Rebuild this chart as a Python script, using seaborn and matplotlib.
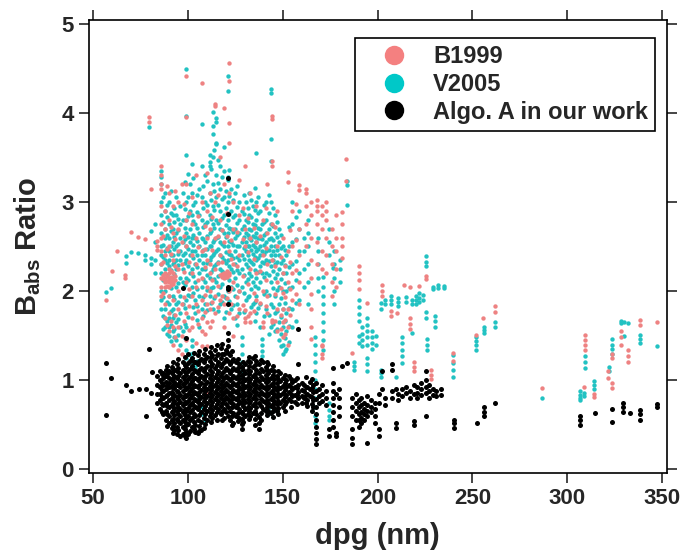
import numpy as np
import pandas as pd
import seaborn as sns
import matplotlib
matplotlib.use('Agg')
import matplotlib.pyplot as plt
from matplotlib.lines import Line2D

# 데이터: "dpg: ratio ratio ..."
b1999_cols = """
57: 1.90
60: 2.22
63: 2.45
67: 2.18 2.15
70: 2.66
74: 2.61
77.5: 2.58
79.7: 3.95 3.90
80.6: 3.14
83.6: 2.56 2.46 2.50
86: 3.40 3.30 3.20 3.14 2.95 2.75 2.60 2.45 2.30 2.15 2.05 1.95
87: 2.62 2.33 2.18 2.13 1.98
88: 2.90 2.70 2.40 2.20 2.15 2.10 2.05 1.85 1.70
89: 3.18 2.47 2.17 2.11 2.06 1.62
90: 3.10 2.80 2.50 2.25 2.20 2.15 2.12 2.10 2.05 1.95 1.75 1.55
91: 2.72 2.42 2.23 2.16 2.11 2.07 1.66
92: 2.95 2.65 2.35 2.20 2.15 2.10 2.08 1.90 1.60 1.40
93.5: 3.12 2.58 2.28 2.17 2.12 1.73 1.48
95: 3.00 2.70 2.45 2.25 2.00 1.80 1.60 1.34
97: 3.20 2.55 2.30 1.85 1.50 1.30
98: 2.98 2.62 2.21 1.93 1.67
99.3: 4.41 3.95 3.20 2.80 2.50 2.10 1.75 1.45
100.5: 2.87 2.33 2.02 1.83 1.56
102: 3.05 2.75 2.40 2.20 1.95 1.70 1.60
104.6: 3.30 2.60 2.30 2.05 1.85 1.42
105.5: 2.84 2.49 2.12 1.78 1.63
107.4: 4.33 3.00 2.45 2.15 1.90 1.70 1.55 1.38
109: 2.73 2.47 2.27 1.96 1.76 1.52
110: 3.32 2.90 2.60 2.35 2.05 1.85 1.65 1.38 0.86
112: 3.10 2.70 2.30 2.20 2.00 1.80 1.60
113: 2.83 2.46 2.12 1.88 1.67
114.4: 4.10 4.07 3.00 2.60 2.25 1.95 1.75
116: 3.08 2.62 2.32 2.06 1.82
117: 3.50 2.80 2.40 2.18 1.90
118: 2.68 2.33 2.19 2.16 1.95
119: 4.05 3.20 2.55 2.20 2.17 2.15 1.85 1.60
120.5: 2.88 2.62 2.23 2.19 2.16 1.92
121.9: 4.56 4.36 3.88 3.66 3.10 2.45 2.20 2.18 2.00 1.75
123: 2.57 2.36 2.03 1.86
124: 3.00 2.70 2.30 2.10 1.70 1.50
126: 2.66 2.28 1.93 1.72
127: 3.25 2.85 2.40 2.00 1.80
129: 2.93 2.58 2.17 1.84
130: 3.40 2.70 2.50 1.79 1.70 1.65
132: 2.82 2.44 2.08 1.72
133: 3.10 2.60 2.25 1.75 1.65
135: 2.71 2.36 1.98 1.78
136: 2.95 2.55 2.20 1.90
138: 2.62 2.23 1.87
139.4: 2.80 2.40 2.00 1.65 1.60
141: 2.93 2.48 2.12 1.83
142: 3.20 2.65 2.30 1.95 1.75
144.5: 3.96 3.93 3.46 3.40 2.75 2.35 1.68 1.65
146: 2.72 2.28 1.97 1.67
147: 2.90 2.50 2.10 1.80 1.55
149: 2.38 2.04 1.73 1.58
150: 2.60 2.20 1.98 1.80 1.65 1.49
151: 2.28 1.93 1.68 1.52
152.7: 3.33 3.22 2.45 2.10 1.80 1.60 1.40
154: 2.69 2.33 2.02 1.73
155: 2.90 2.50 2.20 1.90
157: 2.98 2.57 2.24 1.97
158.8: 3.19 3.13 2.70 2.40 2.10 1.85
162.3: 3.14 3.10 2.95 2.75 2.50
165: 3.00 2.85 2.60 2.35 2.15 1.97 1.80 1.60 1.46
168: 3.02 2.95 2.90 2.75 2.55 2.30
170.5: 2.95 2.85 2.70 2.45 2.25 1.40 1.30 1.25 1.38
173: 3.00 2.90 2.80 2.60 2.40 2.20
176: 2.70 2.50 2.30 2.10 1.95
178: 2.85 2.60 2.45 2.25 2.05
181.5: 2.89 2.75 2.60 2.50 2.37
183.3: 3.48 3.23
186.8: 1.31
190.3: 2.28 2.20 2.12 2.02
194.7: 1.87
202.6: 2.07 2.00 1.94
207: 1.78 1.72
210: 1.75
214: 2.07
217: 2.05 1.70 1.63 1.57
219: 1.21 1.15 1.10
222: 2.06
225.3: 2.17 2.13
228: 1.12 1.06 1.01
239.8: 1.31 1.22
252.1: 1.51
255.6: 1.70
261.7: 1.83 1.77
286.6: 0.91
308.5: 0.92
309.3: 1.51 1.45 1.39 1.34
314.2: 0.85 0.81
321.5: 1.10 1.03
323.5: 1.30 1.25 0.97 0.91
328: 1.55 1.48 1.40
332: 1.34 1.27 1.20
338.2: 1.68 1.62
347.4: 1.65
"""

v2005_cols = """
56.8: 1.99
59.6: 2.04
67.3: 2.39 2.31
70: 2.44
74: 2.43
77.5: 2.41 2.35
79.7: 3.84
80.6: 2.37 2.30 2.67
83: 2.75 2.55 2.35 2.20
86: 3.35 3.28 3.20 3.00 2.85 2.65 2.50 2.40 2.30 2.20 2.00 1.90 1.80
87: 3.05 2.78 2.52 2.38 2.12 1.93 1.72 1.58
88: 3.10 2.90 2.70 2.60 2.45 2.35 2.25 2.00 1.80 1.70 1.60
89: 2.97 2.83 2.63 2.48 2.32 2.18 1.88 1.66 1.52
90: 3.00 2.75 2.60 2.45 2.35 2.28 1.95 1.85 1.70 1.60 1.50
91: 3.12 2.88 2.67 2.51 2.40 2.24 2.03 1.78 1.62 1.44
92: 2.85 2.70 2.55 2.40 2.30 1.95 1.80 1.70 1.55
93: 2.93 2.77 2.61 2.47 2.33 2.19 1.91 1.73 1.58 1.49
94: 3.05 2.85 2.65 2.50 2.35 2.25 2.05 1.85 1.65 1.45
95: 2.81 2.68 2.53 2.42 2.29 2.09 1.88 1.69 1.51
96: 2.95 2.75 2.60 2.45 2.35 2.15 1.95 1.75 1.60 1.40
97.5: 3.10 2.80 2.55 2.40 2.25 2.10 1.85 1.55
98.5: 3.22 2.92 2.71 2.58 2.43 2.31 2.07 1.81 1.63 1.47
99.3: 4.49 3.96 3.53 3.00 2.80 2.65 2.50 2.35 2.15 1.90 1.60 1.34 1.25
100.2: 3.31 3.06 2.84 2.61 2.47 2.28 2.12 1.96 1.71
101: 3.20 2.90 2.70 2.55 2.40 2.20 1.95 1.30 1.20
102: 3.42 3.10 2.85 2.60 2.45 2.25 2.05 1.45 1.38 1.25
103: 3.27 2.96 2.79 2.63 2.52 2.37 2.17 1.98 1.82 1.31 1.18
104: 3.00 2.75 2.60 2.45 2.30 2.10 1.90 1.75 1.20 1.15
105: 3.08 2.89 2.71 2.56 2.41 2.27 2.02 1.83 1.68 1.22
106: 3.15 2.85 2.65 2.50 2.35 2.20 1.95 1.60 0.80
107.4: 3.87 3.40 3.05 2.80 2.60 2.40 2.25 2.05 1.80 0.70 0.62
108: 3.18 2.93 2.72 2.58 2.46 2.31 2.14 1.93 1.72
109: 3.30 3.00 2.75 2.55 2.40 2.25 2.10 1.85 0.56
110.3: 3.24 2.97 2.78 2.62 2.47 2.32 2.18 2.01 1.79
111.6: 3.53 3.45 3.40 3.10 2.85 2.65 2.50 2.35 2.15 1.95
112.5: 3.37 3.02 2.81 2.67 2.51 2.38 2.21 2.03 1.87
113.3: 4.01 3.85 3.76 3.50 3.20 2.95 2.75 2.55 2.40 2.25 2.05 1.80
114: 3.58 3.12 2.91 2.71 2.57 2.43 2.28 2.13 1.92
115: 3.94 3.90 3.66 3.65 3.30 3.05 2.80 2.60 2.45 2.30 2.10
116: 3.47 3.21 2.96 2.76 2.61 2.47 2.33 2.17 1.97 1.78
117: 3.40 3.15 2.90 2.70 2.55 2.40 2.25 2.05 1.85
118: 3.28 3.03 2.82 2.68 2.53 2.38 2.22 2.08 1.88
119.3: 3.62 3.35 3.05 2.85 2.65 2.50 2.35 2.20 1.95 1.70
120: 3.12 2.93 2.74 2.61 2.44 2.31 2.16 1.92 1.76
121: 4.41 4.24 3.28 3.25 3.00 2.80 2.65 2.50 2.35 2.20 2.00
122: 3.36 3.07 2.86 2.71 2.56 2.42 2.28 2.12 1.89
123: 3.15 2.90 2.70 2.55 2.40 2.25 2.05 1.80
124: 3.02 2.83 2.66 2.52 2.37 2.21 2.02 1.84
125: 3.10 2.85 2.70 2.60 2.45 2.30 2.15 1.95 1.70
126: 3.18 2.94 2.76 2.63 2.51 2.38 2.24 2.07 1.86 1.62
127: 3.00 2.80 2.65 2.50 2.35 2.20 2.00 1.75
128.5: 2.90 2.70 2.55 2.40 2.25 2.05 1.49 1.40 1.30 1.20 1.10 1.04
129.5: 3.08 2.86 2.73 2.61 2.48 2.36 2.18 1.98 1.77
130.5: 3.00 2.80 2.65 2.55 2.45 2.30 2.10 1.90
131.5: 2.93 2.77 2.63 2.51 2.41 2.27 2.13 1.93
132.5: 3.10 2.85 2.70 2.60 2.50 2.35 2.20 1.95
133.5: 3.02 2.83 2.68 2.57 2.46 2.33 2.17 2.02 1.82
134.5: 2.95 2.75 2.62 2.52 2.42 2.30 2.10 1.85
135.2: 3.16 2.91 2.74 2.61 2.49 2.38 2.24 2.06 1.88 1.67
136: 3.55 3.00 2.80 2.65 2.55 2.45 2.35 2.15 1.95 1.75
137: 3.05 2.87 2.71 2.59 2.47 2.37 2.21 2.03 1.81
138: 2.90 2.70 2.60 2.50 2.40 2.28 2.10 1.85 1.60
139.2: 2.75 2.58 2.45 2.33 2.20 1.46 1.40 1.33 1.27
140: 2.96 2.77 2.63 2.52 2.42 2.31 2.16 1.97 1.72
141: 3.00 2.80 2.65 2.55 2.45 2.35 2.20 2.00 1.80
142.2: 0.73 0.68 0.62
143: 3.08 2.87 2.70 2.58 2.46 2.34 2.18 1.96 1.73 1.52
144: 4.27 4.22 3.70 3.46 3.00 2.75 2.60 2.50 2.40 2.28 2.10 1.85 1.60
145: 2.93 2.73 2.57 2.45 2.35 2.22 2.04 1.82 1.63
146: 2.85 2.65 2.50 2.40 2.30 2.15 1.95 1.75 1.55
147: 2.78 2.61 2.46 2.33 2.19 2.01 1.78 1.58
148: 2.70 2.55 2.40 2.25 2.05 1.85 1.65 1.45
149: 2.63 2.48 2.31 2.13 1.92 1.71 1.52 1.38
150: 2.50 2.35 2.20 2.00 1.80 1.60 1.40 1.30
151: 2.46 2.29 2.09 1.87 1.67 1.47 1.33
152: 2.40 2.20 2.00 1.75 1.55 1.35
153.5: 2.72 2.51 2.27 2.03 1.81 1.61 1.43
155: 3.00 2.75 2.55 2.30 2.05 1.80 1.60
157: 2.83 2.58 2.34 2.12 1.87 1.66
158.8: 2.90 2.70 2.45 2.20 1.90
161: 2.60 2.45 2.25 2.05
163.5: 2.80 2.65 2.50 2.30 2.10 1.85
166.8: 1.49 1.40 1.30 1.20 1.10 1.00 0.90 0.80 0.70 0.60 0.52
168.5: 2.60 2.45 2.30 2.15 2.00
171.5: 2.16 2.05 1.95 1.85 1.75 1.65 1.55 1.45 1.34
174.6: 2.70 2.55 2.40 0.75 0.67 0.60 0.56
176.3: 2.26
177: 2.45 2.30 2.15 2.00 1.85
180: 2.35 2.25 2.10
183.8: 3.23 3.19 2.96
187.7: 1.21 1.16 1.12
190: 1.90 1.82 1.74 1.66 1.50 1.42
192: 1.60 1.52 1.45 1.38
194.7: 1.70 1.62 1.55 1.48 1.40 1.25 1.18 1.10
197: 1.55 1.48 1.42 1.35
199: 1.50 1.40
201.7: 1.87 1.80 1.12 1.08 1.04
204: 1.90 1.85
207: 1.94 1.90 1.85
209.6: 1.04
211: 1.92 1.88 1.83
213: 1.49 1.42 1.34 1.27 1.19
215: 1.93 1.88
218: 1.90 1.86 1.53
220: 1.95 1.90 1.85
222: 1.98 1.92 1.88
224: 1.96 1.90
225.3: 2.39 2.33 2.28 1.76 1.70
226: 1.46 1.40 1.34
229: 2.05 2.02
230.5: 1.72 1.66 1.60
232: 2.07 2.04
235: 2.06 2.03
239.8: 1.28 1.19 1.12 1.04
252.1: 1.49 1.44 1.39 1.34
256: 1.60 1.56 1.53
261.7: 1.65 1.60
286.6: 0.80
306.5: 0.88 0.84 0.80 0.78
308.5: 0.86 0.82
309.3: 1.27 1.20 1.14
314.2: 0.99 0.95 0.90
322: 1.15 1.10
323.5: 1.46 1.40 1.35 1.30
328: 1.66 1.64
330: 1.65 1.50
332: 1.64
338.2: 1.51 1.46 1.42
347.4: 1.38
"""

algo_cols = """
56.8: 1.19 0.61
59.6: 1.02
67.5: 0.95
70.1: 0.88
74.3: 0.90
77.8: 0.90 0.60
79.7: 1.35
80.4: 0.86
81: 1.09
84: 1.05 0.95 0.85 0.75
85.5: 1.10 1.00 0.92 0.85 0.78 0.68
86.3: 1.07 0.97 0.89 0.81 0.73 0.64
87: 1.08 1.02 0.95 0.88 0.80 0.72 0.62
88.5: 1.12 1.05 0.98 0.90 0.82 0.75 0.66 0.55
89.3: 1.16 1.07 0.94 0.84 0.71 0.62 0.49
90: 1.10 1.03 0.97 0.92 0.86 0.78 0.70 0.60 0.52
91.5: 1.15 1.08 1.00 0.93 0.87 0.80 0.72 0.64 0.55 0.47
92.3: 1.21 1.13 1.03 0.95 0.83 0.75 0.66 0.57 0.49 0.41
93: 1.12 1.05 0.98 0.91 0.84 0.77 0.69 0.61 0.52 0.44
94.5: 1.18 1.10 1.02 0.95 0.88 0.81 0.73 0.65 0.57 0.48 0.40
95.1: 1.24 1.14 1.05 0.96 0.87 0.79 0.70 0.62 0.54 0.44
95.8: 1.08 0.99 0.92 0.84 0.76 0.68 0.60 0.52 0.37
97.6: 2.04 1.20 1.12 1.04 0.96 0.88 0.80 0.72 0.64 0.56 0.48 0.40
98.4: 1.26 1.17 1.09 1.00 0.92 0.84 0.76 0.68 0.61 0.53 0.45 0.38
99.3: 1.47 1.15 1.06 0.98 0.90 0.82 0.74 0.66 0.58 0.50 0.42 0.35
100.2: 1.29 1.19 1.10 1.01 0.93 0.85 0.77 0.69 0.60 0.51 0.40
101: 1.22 1.13 1.04 0.96 0.88 0.80 0.72 0.64 0.56 0.43
102.5: 1.25 1.16 1.07 0.99 0.91 0.83 0.75 0.67 0.58 0.48
103.3: 1.31 1.21 1.12 1.03 0.95 0.87 0.79 0.71 0.62 0.53 0.45
104: 1.20 1.10 1.02 0.94 0.86 0.78 0.70 0.60 0.50 0.42
105.4: 1.28 1.18 1.08 1.00 0.92 0.84 0.76 0.68 0.55 0.41
106.2: 1.33 1.22 1.12 1.03 0.95 0.87 0.79 0.71 0.61 0.49 0.43
107: 1.24 1.14 1.05 0.97 0.89 0.81 0.73 0.64 0.53 0.44
108.5: 1.30 1.20 1.10 1.01 0.93 0.85 0.77 0.68 0.58 0.47
109.3: 1.35 1.24 1.14 1.05 0.96 0.88 0.80 0.71 0.62 0.51
110: 1.26 1.16 1.07 0.98 0.90 0.82 0.74 0.65 0.55
111.5: 1.32 1.22 1.12 1.03 0.94 0.86 0.78 0.69 0.60
112.3: 1.37 1.26 1.16 1.06 0.97 0.89 0.81 0.72 0.63 0.53
113: 1.28 1.18 1.09 1.00 0.92 0.84 0.76 0.67 0.58
114.5: 1.34 1.24 1.14 1.04 0.95 0.87 0.79 0.70 0.61
115.3: 1.39 1.28 1.17 1.07 0.98 0.90 0.82 0.73 0.64 0.56
116: 1.30 1.20 1.10 1.01 0.93 0.85 0.77 0.68
117.5: 1.36 1.25 1.15 1.05 0.96 0.88 0.80 0.71 0.62
118.3: 1.41 1.29 1.18 1.08 0.99 0.91 0.83 0.74 0.65 0.55
119: 1.30 1.20 1.10 1.02 0.94 0.86 0.78 0.68 0.58
120: 1.34 1.24 1.14 1.05 0.97 0.89 0.81 0.73 0.64
121: 3.27 2.86 2.05 2.02 1.86 1.53 1.45 1.38 1.31 1.22 1.12 1.03 0.95 0.87 0.79 0.70 0.60
122.5: 1.28 1.18 1.08 1.00 0.92 0.84 0.76 0.66 0.55
123.3: 1.33 1.22 1.12 1.03 0.95 0.87 0.79 0.70 0.60 0.50
124: 1.24 1.14 1.05 0.97 0.89 0.81 0.73 0.63 0.52
125.5: 1.20 1.11 1.03 0.95 0.87 0.79 0.70 0.60
126.3: 1.24 1.14 1.05 0.97 0.89 0.81 0.73 0.63 0.54
127: 1.18 1.09 1.01 0.93 0.85 0.77 0.68 0.58
128.4: 1.15 1.06 0.98 0.90 0.82 0.74 0.64 0.57 0.51 0.45
129.2: 1.21 1.11 1.03 0.95 0.87 0.79 0.71 0.62 0.53
130: 1.18 1.08 1.00 0.92 0.84 0.76 0.68 0.60
131.5: 1.22 1.12 1.03 0.95 0.87 0.79 0.70 0.62
132.3: 1.26 1.16 1.07 0.98 0.90 0.82 0.74 0.66 0.57
133: 1.20 1.10 1.01 0.93 0.85 0.77 0.69 0.60
134.5: 1.25 1.15 1.05 0.96 0.88 0.80 0.72 0.63
135.3: 1.27 1.17 1.07 0.99 0.91 0.83 0.75 0.66 0.57 0.50
136: 1.22 1.12 1.03 0.95 0.87 0.79 0.70 0.62
137.8: 1.18 1.08 0.99 0.91 0.83 0.75 0.59 0.52 0.45
138.7: 1.23 1.13 1.04 0.95 0.87 0.79 0.71 0.63 0.55
139.5: 1.20 1.10 1.01 0.93 0.85 0.77 0.68
141: 1.15 1.06 0.98 0.90 0.82 0.74 0.65
141.8: 1.21 1.11 1.02 0.94 0.86 0.78 0.70 0.61
142.5: 1.18 1.08 0.99 0.91 0.83 0.75 0.66
144: 1.12 1.03 0.95 0.87 0.79 0.71 0.63
144.8: 1.16 1.06 0.97 0.89 0.81 0.73 0.66 0.59
145.5: 1.10 1.01 0.93 0.85 0.77 0.69
147: 1.05 0.97 0.89 0.81 0.73 0.65
147.8: 1.10 1.01 0.93 0.85 0.77 0.69 0.62
148.5: 1.08 0.99 0.91 0.83 0.75
150: 1.02 0.94 0.86 0.78 0.70
151: 1.06 0.97 0.89 0.81 0.73 0.66
152: 1.00 0.92 0.84 0.76
153.5: 1.05 0.95 0.87 0.79
154.3: 1.01 0.93 0.85 0.77 0.70
155: 0.98 0.90 0.82
156.5: 1.00 0.92 0.84 0.76
157.5: 1.03 0.91 0.83 0.73
158.3: 1.57 1.18 0.95 0.87 0.80
160: 0.97 0.89 0.82 0.75
161.5: 0.95 0.88 0.80
162.3: 1.04 0.93 0.84 0.74
163: 0.92 0.85 0.78 0.71
164.5: 0.98 0.90 0.82
165.3: 1.01 0.91 0.81 0.73 0.66
166: 0.95 0.87 0.78 0.70
167.6: 0.97 0.88 0.79 0.70 0.62 0.55 0.48 0.41 0.34 0.28
169: 0.90 0.82 0.74
171: 0.95 0.85 0.77
173: 0.88 0.80 0.72
174.6: 0.45 0.37
176.3: 1.14 0.97 0.88 0.80 0.72 0.64 0.56 0.48
178: 0.85 0.41 0.37
179.5: 0.90 0.80 0.70 0.60
181.5: 1.16
183.9: 1.19
186.8: 0.80 0.70 0.60 0.45 0.35 0.28
188.5: 0.85 0.75 0.65 0.55
190: 0.78 0.70 0.62 0.55 0.48
191.5: 0.80 0.72 0.64 0.58 0.52
193: 0.75 0.68 0.62 0.56
194.7: 0.82 0.72 0.66 0.60 0.30
196.5: 0.78 0.70 0.64
198.5: 0.75 0.68 0.60 0.52
200.8: 0.85 0.75 0.45 0.37
202.6: 1.10 0.90
204: 0.80 0.72
207.8: 1.18 1.12 0.88 0.80
209.6: 0.90 0.52 0.46
211: 0.85 0.78
213: 0.90 0.82
215: 0.93 0.86
217: 0.88 0.80
219: 0.95 0.85 0.54 0.50
221: 0.92 0.86 0.80
223: 0.97 0.90 0.84
225.3: 1.10 1.00 0.92 0.86 0.60
227: 0.95 0.88 0.80
229: 0.90 0.84
231: 0.88 0.82
233.5: 0.90 0.84
240.2: 0.56 0.52 0.47
252.4: 0.52
256: 0.70 0.64 0.60
261.7: 0.74
306.7: 0.60 0.55 0.50
314.6: 0.63
323.3: 0.68 0.53
329.4: 0.75 0.70 0.64
333: 0.63
338: 0.67 0.62 0.56
347.4: 0.73 0.70
"""

series_names = ['B1999', 'V2005', 'Algo. A in our work']
colors = {'B1999': '#EE8282', 'V2005': '#22C2C2', 'Algo. A in our work': '#000000'}
legend_colors = ['#F48080', '#00C8C8', '#000000']


def parse(txt, name):
    rows = []
    for line in txt.strip().splitlines():
        x, ys = line.split(':')
        for y in ys.split():
            rows.append((float(x), float(y), name))
    return rows


rows = parse(b1999_cols, 'B1999') + parse(v2005_cols, 'V2005') + parse(algo_cols, 'Algo. A in our work')
df = pd.DataFrame(rows, columns=['dpg', 'ratio', 'series'])

sns.set_style('ticks')
plt.rcParams['font.family'] = ['Liberation Sans', 'DejaVu Sans']
plt.rcParams['font.weight'] = 'bold'
plt.rcParams['mathtext.fontset'] = 'custom'
plt.rcParams['mathtext.rm'] = 'Liberation Sans:bold'
plt.rcParams['mathtext.bf'] = 'Liberation Sans:bold'

fig = plt.figure(figsize=(6.82, 5.52), dpi=100)
ax = fig.add_axes([0.1305, 0.1431, 0.847, 0.8207])

# 그리는 순서: V2005 -> B1999 -> Algo. A
for name, sz in [('V2005', 10), ('B1999', 10), ('Algo. A in our work', 13)]:
    sub = df[df.series == name]
    sns.scatterplot(data=sub, x='dpg', y='ratio', color=colors[name], s=sz,
                    linewidth=0, ax=ax, legend=False)

ax.set_xlim(48, 352.3)
ax.set_ylim(-0.04, 5.04)
ax.set_xticks([50, 100, 150, 200, 250, 300, 350])
ax.set_yticks([0, 1, 2, 3, 4, 5])
for sp in ax.spines.values():
    sp.set_visible(True)
    sp.set_linewidth(1.2)
    sp.set_color('black')
ax.tick_params(axis='both', direction='out', length=7, width=1.2, labelsize=16,
               top=True, right=True, labeltop=False, labelright=False, pad=4)
for lab in ax.get_xticklabels() + ax.get_yticklabels():
    lab.set_fontweight('bold')

ax.set_xlabel('dpg (nm)', fontsize=21, fontweight='bold', labelpad=9)
ax.set_ylabel(r'B$_{\mathbf{abs}}$ Ratio', fontsize=21, fontweight='bold', labelpad=13)

# 범례
handles = [Line2D([], [], marker='o', linestyle='', markersize=14,
                  markerfacecolor=c, markeredgewidth=0) for c in legend_colors]
leg = ax.legend(handles, series_names, loc='upper right', bbox_to_anchor=(0.98, 0.96),
                borderaxespad=0, frameon=True, fancybox=False, framealpha=1,
                edgecolor='black', prop={'size': 17, 'weight': 'bold'},
                handlelength=2.7, handletextpad=0.3, labelspacing=0.2,
                borderpad=0.3)
leg.get_frame().set_linewidth(1.2)

fig.savefig('out.png', dpi=100)
